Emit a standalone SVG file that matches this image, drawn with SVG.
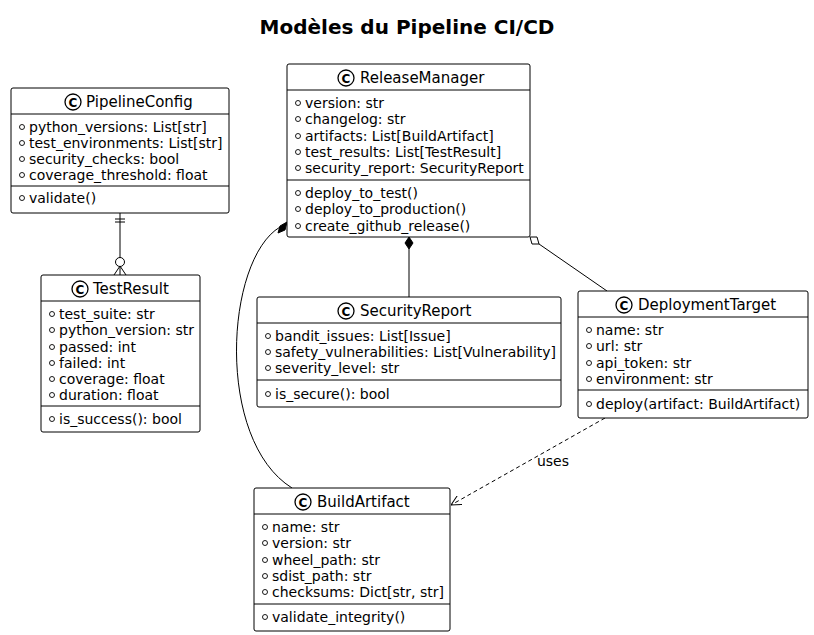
<svg xmlns="http://www.w3.org/2000/svg" width="814" height="635" viewBox="0 0 814 635">
<style>
text{font-family:"DejaVu Sans",sans-serif;font-size:14px;fill:#000}
.t{font-size:20px;font-weight:bold}
.n{font-size:15px}
.box{fill:#fff;stroke:#000;stroke-width:1}
.sep{stroke:#000;stroke-width:1}
.ic{fill:#fff;stroke:#000;stroke-width:1.3}
.icl{font-size:12px;font-weight:bold}
.vis{fill:none;stroke:#000;stroke-width:0.9}
.c{fill:none;stroke:#000;stroke-width:1}
</style>
<defs>
<marker id="arr" viewBox="0 0 10 10" refX="10" refY="5" markerWidth="10" markerHeight="10" orient="auto" markerUnits="userSpaceOnUse"><path d="M0,0 L10,5 L0,10" fill="none" stroke="#000"/></marker>
</defs>
<text class="t" x="407" y="34" text-anchor="middle">Modèles du Pipeline CI/CD</text>

<g id="connectors">
<path class="c" d="M120,213 V275"/>
<path class="c" d="M115,219 H125 M115,222 H125"/>
<circle cx="120" cy="262" r="4.5" fill="#fff" stroke="#000"/>
<path class="c" d="M114,275 L120,266 L126,275"/>
<path class="c" d="M280,227 C225,260 215,440 292,488"/>
<path d="M287,222 L285,230 L278,233 L280,226 Z" fill="#000" stroke="#000"/>
<path class="c" d="M409,249 V297"/>
<path d="M409,237 L413,243 L409,249 L405,243 Z" fill="#000" stroke="#000"/>
<path class="c" d="M539,244 L607,291"/>
<path d="M530,237 L537,237 L539,244 L532,244 Z" fill="#fff" stroke="#000"/>
<path class="c" d="M605,418 L451,505" stroke-dasharray="4,3" marker-end="url(#arr)"/>
<text x="553" y="466" text-anchor="middle">uses</text>
</g>

<g id="PipelineConfig">
<rect class="box" x="11" y="88" width="218" height="125" rx="2"/>
<circle class="ic" cx="73" cy="102" r="8"/><text class="icl" x="73" y="106.5" text-anchor="middle">C</text>
<text class="n" x="86" y="107">PipelineConfig</text>
<line class="sep" x1="11" y1="114" x2="229" y2="114"/>
<circle class="vis" cx="22" cy="127" r="2.5"/><text x="29" y="132">python_versions: List[str]</text>
<circle class="vis" cx="22" cy="143" r="2.5"/><text x="29" y="148">test_environments: List[str]</text>
<circle class="vis" cx="22" cy="159" r="2.5"/><text x="29" y="164">security_checks: bool</text>
<circle class="vis" cx="22" cy="175" r="2.5"/><text x="29" y="180">coverage_threshold: float</text>
<line class="sep" x1="11" y1="186" x2="229" y2="186"/>
<circle class="vis" cx="22" cy="198" r="2.5"/><text x="29" y="203">validate()</text>
</g>

<g id="ReleaseManager">
<rect class="box" x="287" y="64" width="243" height="173" rx="2"/>
<circle class="ic" cx="346" cy="78" r="8"/><text class="icl" x="346" y="82.5" text-anchor="middle">C</text>
<text class="n" x="360" y="83">ReleaseManager</text>
<line class="sep" x1="287" y1="90" x2="530" y2="90"/>
<circle class="vis" cx="298" cy="103" r="2.5"/><text x="305" y="108">version: str</text>
<circle class="vis" cx="298" cy="119" r="2.5"/><text x="305" y="124">changelog: str</text>
<circle class="vis" cx="298" cy="136" r="2.5"/><text x="305" y="141">artifacts: List[BuildArtifact]</text>
<circle class="vis" cx="298" cy="152" r="2.5"/><text x="305" y="157">test_results: List[TestResult]</text>
<circle class="vis" cx="298" cy="168" r="2.5"/><text x="305" y="173">security_report: SecurityReport</text>
<line class="sep" x1="287" y1="180" x2="530" y2="180"/>
<circle class="vis" cx="298" cy="193" r="2.5"/><text x="305" y="198">deploy_to_test()</text>
<circle class="vis" cx="298" cy="209" r="2.5"/><text x="305" y="214">deploy_to_production()</text>
<circle class="vis" cx="298" cy="226" r="2.5"/><text x="305" y="231">create_github_release()</text>
</g>

<g id="TestResult">
<rect class="box" x="41" y="275" width="159" height="157" rx="2"/>
<circle class="ic" cx="80" cy="289" r="8"/><text class="icl" x="80" y="293.5" text-anchor="middle">C</text>
<text class="n" x="93" y="294">TestResult</text>
<line class="sep" x1="41" y1="301" x2="200" y2="301"/>
<circle class="vis" cx="52" cy="314" r="2.5"/><text x="59" y="319">test_suite: str</text>
<circle class="vis" cx="52" cy="330" r="2.5"/><text x="59" y="335">python_version: str</text>
<circle class="vis" cx="52" cy="347" r="2.5"/><text x="59" y="352">passed: int</text>
<circle class="vis" cx="52" cy="363" r="2.5"/><text x="59" y="368">failed: int</text>
<circle class="vis" cx="52" cy="379" r="2.5"/><text x="59" y="384">coverage: float</text>
<circle class="vis" cx="52" cy="395" r="2.5"/><text x="59" y="400">duration: float</text>
<line class="sep" x1="41" y1="406" x2="200" y2="406"/>
<circle class="vis" cx="52" cy="419" r="2.5"/><text x="59" y="424">is_success(): bool</text>
</g>

<g id="SecurityReport">
<rect class="box" x="257" y="297" width="304" height="110" rx="2"/>
<circle class="ic" cx="346" cy="311" r="8"/><text class="icl" x="346" y="315.5" text-anchor="middle">C</text>
<text class="n" x="360" y="316">SecurityReport</text>
<line class="sep" x1="257" y1="323" x2="561" y2="323"/>
<circle class="vis" cx="268" cy="336" r="2.5"/><text x="275" y="341">bandit_issues: List[Issue]</text>
<circle class="vis" cx="268" cy="352" r="2.5"/><text x="275" y="357">safety_vulnerabilities: List[Vulnerability]</text>
<circle class="vis" cx="268" cy="368" r="2.5"/><text x="275" y="373">severity_level: str</text>
<line class="sep" x1="257" y1="380" x2="561" y2="380"/>
<circle class="vis" cx="268" cy="394" r="2.5"/><text x="275" y="399">is_secure(): bool</text>
</g>

<g id="DeploymentTarget">
<rect class="box" x="578" y="291" width="230" height="127" rx="2"/>
<circle class="ic" cx="624" cy="305" r="8"/><text class="icl" x="624" y="309.5" text-anchor="middle">C</text>
<text class="n" x="638" y="310">DeploymentTarget</text>
<line class="sep" x1="578" y1="317" x2="808" y2="317"/>
<circle class="vis" cx="589" cy="330" r="2.5"/><text x="596" y="335">name: str</text>
<circle class="vis" cx="589" cy="346" r="2.5"/><text x="596" y="351">url: str</text>
<circle class="vis" cx="589" cy="363" r="2.5"/><text x="596" y="368">api_token: str</text>
<circle class="vis" cx="589" cy="379" r="2.5"/><text x="596" y="384">environment: str</text>
<line class="sep" x1="578" y1="390" x2="808" y2="390"/>
<circle class="vis" cx="589" cy="404" r="2.5"/><text x="596" y="409">deploy(artifact: BuildArtifact)</text>
</g>

<g id="BuildArtifact">
<rect class="box" x="254" y="488" width="196" height="143" rx="2"/>
<circle class="ic" cx="303" cy="502" r="8"/><text class="icl" x="303" y="506.5" text-anchor="middle">C</text>
<text class="n" x="317" y="507">BuildArtifact</text>
<line class="sep" x1="254" y1="514" x2="450" y2="514"/>
<circle class="vis" cx="265" cy="527" r="2.5"/><text x="272" y="532">name: str</text>
<circle class="vis" cx="265" cy="543" r="2.5"/><text x="272" y="548">version: str</text>
<circle class="vis" cx="265" cy="560" r="2.5"/><text x="272" y="565">wheel_path: str</text>
<circle class="vis" cx="265" cy="576" r="2.5"/><text x="272" y="581">sdist_path: str</text>
<circle class="vis" cx="265" cy="592" r="2.5"/><text x="272" y="597">checksums: Dict[str, str]</text>
<line class="sep" x1="254" y1="604" x2="450" y2="604"/>
<circle class="vis" cx="265" cy="617" r="2.5"/><text x="272" y="622">validate_integrity()</text>
</g>
</svg>
